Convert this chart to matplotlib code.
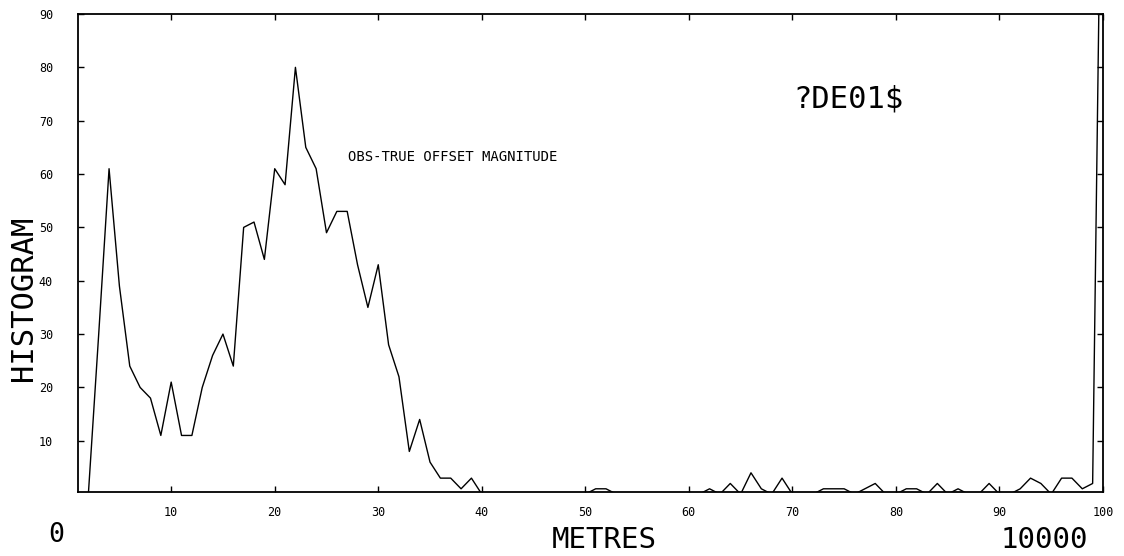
# offset magnitude histogram, old plotter style
import matplotlib.pyplot as plt
import numpy as np

# bins 1..100 (last bin overflows off the top)
bins = np.arange(1, 101)
counts = [0, 0, 30, 61, 39, 24, 20, 18, 11, 21,
          11, 11, 20, 26, 30, 24, 50, 51, 44, 61,
          58, 80, 65, 61, 49, 53, 53, 43, 35, 43,
          28, 22, 8, 14, 6, 3, 3, 1, 3, 0,
          0, 0, 0, 0, 0, 0, 0, 0, 0, 0,
          1, 1, 0, 0, 0, 0, 0, 0, 0, 0,
          0, 1, 0, 2, 0, 4, 1, 0, 3, 0,
          0, 0, 1, 1, 1, 0, 1, 2, 0, 0,
          1, 1, 0, 2, 0, 1, 0, 0, 2, 0,
          0, 1, 3, 2, 0, 3, 3, 1, 2, 150]

xticks = [10, 20, 30, 40, 50, 60, 70, 80, 90, 100]
yticks = [10, 20, 30, 40, 50, 60, 70, 80, 90]

mono = 'DejaVu Sans Mono'

fig = plt.figure(figsize=(11.24, 5.56), dpi=100)
ax = fig.add_axes([78/1124, 1 - 492/556, 1025/1124, 478/556])
ax.plot(bins, counts, color='black', lw=1.0)
ax.set_xlim(1, 100)
ax.set_ylim(0.4, 90)

ax.set_xticks(xticks)
ax.set_xticklabels([str(t) for t in xticks], family=mono, fontsize=8.5)
ax.set_yticks(yticks)
ax.set_yticklabels([str(t) for t in yticks], family=mono, fontsize=8.5)
ax.tick_params(direction='in', length=4, width=1, top=True, right=True)
ax.tick_params(axis='x', pad=10)
ax.tick_params(axis='y', pad=18)
for s in ax.spines.values():
    s.set_linewidth(1.3)

ax.text(0.263, 0.70, 'OBS-TRUE OFFSET MAGNITUDE', transform=ax.transAxes,
        family=mono, fontsize=10, va='center', ha='left')
ax.text(0.698, 0.822, '?DE01$', transform=ax.transAxes,
        family=mono, fontsize=22, va='center', ha='left')

fig.text(0.0205, 0.464, 'HISTOGRAM', rotation=90, family=mono,
         fontsize=22, ha='center', va='center')
fig.text(0.538, 0.029, 'METRES', family=mono, fontsize=21,
         ha='center', va='center')
fig.text(0.05, 0.038, '0', family=mono, fontsize=19, ha='center', va='center')
fig.text(0.929, 0.029, '10000', family=mono, fontsize=21,
         ha='center', va='center')

plt.savefig('out.png')
